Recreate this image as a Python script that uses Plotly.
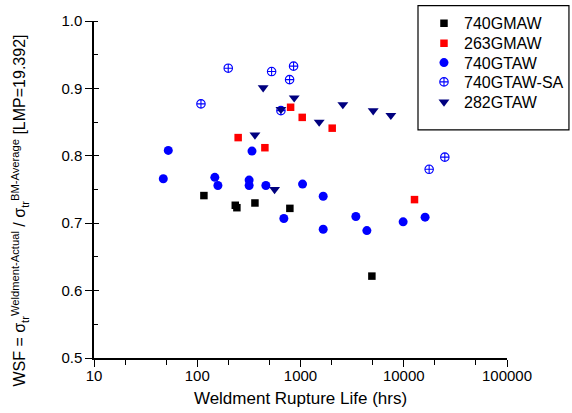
import plotly.graph_objects as go

# ---- data ----
gmaw740_x = [116, 233.5, 242, 362, 789, 4913]
gmaw740_y = [0.741, 0.7266, 0.723, 0.730, 0.722, 0.6215]

gmaw263_x = [249, 452, 802, 1039, 2028, 12710]
gmaw263_y = [0.827, 0.812, 0.872, 0.857, 0.841, 0.735]

gtaw740_x = [46.9, 52.4, 148, 158.5, 318, 318, 339, 462, 1047, 1659, 690, 1659, 3437, 4393, 9863, 16100]
gtaw740_y = [0.766, 0.808, 0.768, 0.756, 0.764, 0.756, 0.807, 0.756, 0.758, 0.740, 0.707, 0.691, 0.710, 0.689, 0.702, 0.709]

gtawsa740_x = [108.6, 199.6, 525, 646, 784, 857, 17620, 24990]
gtawsa740_y = [0.877, 0.930, 0.925, 0.867, 0.913, 0.933, 0.780, 0.798]

gtaw282_x = [362, 435, 561, 646, 869, 1517, 2572, 5058, 7500]
gtaw282_y = [0.831, 0.901, 0.750, 0.869, 0.886, 0.850, 0.876, 0.867, 0.860]

series_names = ["740GMAW", "263GMAW", "740GTAW", "740GTAW-SA", "282GTAW"]
x_tickvals = [10, 100, 1000, 10000, 100000]
x_ticktext = ["10", "100", "1000", "10000", "100000"]
y_tickvals = [0.5, 0.6, 0.7, 0.8, 0.9, 1.0]
y_ticktext = ["0.5", "0.6", "0.7", "0.8", "0.9", "1.0"]
y_title = ("WSF = σ<sub>tr</sub><sup>Weldment-Actual</sup> / "
           "σ<sub>tr</sub><sup>BM-Average</sup> [LMP=19.392]")
x_title = "Weldment Rupture Life (hrs)"

FONT = "Arial, 'Liberation Sans', sans-serif"

# legend row centres (paper coordinates)
legend_rows = [0.9932, 0.9338, 0.8763, 0.8190, 0.7596]
legend_x = 0.799

fig = go.Figure()
fig.add_trace(go.Scatter(x=gmaw740_x, y=gmaw740_y, mode="markers", name=series_names[0],
                         legend="legend",
                         marker=dict(symbol="square", size=7.5, color="#000000")))
fig.add_trace(go.Scatter(x=gmaw263_x, y=gmaw263_y, mode="markers", name=series_names[1],
                         legend="legend2",
                         marker=dict(symbol="square", size=7.5, color="#ff0000")))
fig.add_trace(go.Scatter(x=gtaw740_x, y=gtaw740_y, mode="markers", name=series_names[2],
                         legend="legend3",
                         marker=dict(symbol="circle", size=9, color="#0000ff")))
fig.add_trace(go.Scatter(x=gtawsa740_x, y=gtawsa740_y, mode="markers", name=series_names[3],
                         legend="legend4",
                         marker=dict(symbol="circle-cross-open", size=8.5, color="#0000ff",
                                     line=dict(width=1.1, color="#0000ff"))))
fig.add_trace(go.Scatter(x=gtaw282_x, y=gtaw282_y, mode="markers", name=series_names[4],
                         legend="legend5",
                         marker=dict(symbol="triangle-down", size=9.5, color="#00007f")))
# helper trace so the overlay axis (inside half of major y ticks) is drawn
fig.add_trace(go.Scatter(x=[], y=[], xaxis="x", yaxis="y2", showlegend=False, hoverinfo="skip"))


def leg(yc):
    return dict(x=legend_x, y=yc, xanchor="left", yanchor="middle",
                bgcolor="rgba(0,0,0,0)", borderwidth=0,
                font=dict(family=FONT, size=16, color="#000000"))


fig.update_layout(
    width=572, height=413,
    margin=dict(l=94, r=65, t=21, b=55, autoexpand=False),
    paper_bgcolor="white", plot_bgcolor="white",
    font=dict(family=FONT, color="#000000", size=15),
    showlegend=True,
    legend=leg(legend_rows[0]),
    legend2=leg(legend_rows[1]),
    legend3=leg(legend_rows[2]),
    legend4=leg(legend_rows[3]),
    legend5=leg(legend_rows[4]),
    xaxis=dict(type="log", range=[1, 5], showgrid=False, zeroline=False,
               showline=True, linecolor="#000000", linewidth=1.5, mirror=False,
               ticks="outside", ticklen=7, tickwidth=1.3, tickcolor="#000000",
               tickvals=x_tickvals, ticktext=x_ticktext, ticklabelstandoff=-4,
               tickfont=dict(family=FONT, size=15),
               minor=dict(ticks="outside", ticklen=5, tickwidth=1.2, tickcolor="#000000",
                          dtick="D2", showgrid=False),
               title=dict(text=x_title, font=dict(family=FONT, size=17), standoff=9)),
    yaxis=dict(range=[0.5, 1.0], showgrid=False, zeroline=False,
               showline=True, linecolor="#000000", linewidth=1.5,
               ticks="outside", ticklen=7, tickwidth=1.3, tickcolor="#000000",
               tickvals=y_tickvals, ticktext=y_ticktext,
               tickfont=dict(family=FONT, size=15),
               minor=dict(ticks="inside", ticklen=4, tickwidth=1.2, tickcolor="#000000",
                          dtick=0.05, showgrid=False)),
    yaxis2=dict(overlaying="y", side="left", range=[0.5, 1.0], showgrid=False,
                zeroline=False, showline=False, ticks="inside", ticklen=5,
                tickwidth=1.3, tickcolor="#000000", tickvals=y_tickvals,
                showticklabels=False),
    annotations=[dict(text=y_title, xref="paper", yref="paper", x=-0.179, y=0.4377,
                      xanchor="center", yanchor="middle", textangle=-90, showarrow=False,
                      font=dict(family=FONT, size=16, color="#000000"))],
    shapes=[dict(type="rect", xref="paper", yref="paper",
                 x0=0.7845, x1=1.150, y0=0.677, y1=1.0454,
                 line=dict(color="#000000", width=1.2), fillcolor="rgba(0,0,0,0)")],
)

fig.write_html("out.html")
